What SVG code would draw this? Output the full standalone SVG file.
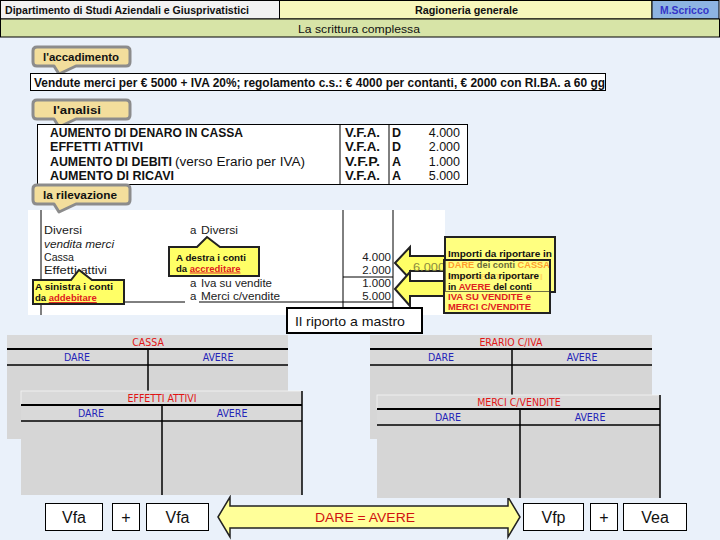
<svg xmlns="http://www.w3.org/2000/svg" width="720" height="540" viewBox="0 0 720 540">
<defs>
<style>
.hd{font-family:"Liberation Sans",Arial,sans-serif;font-weight:bold;font-size:10.5px;fill:#111}
.tan{fill:#F3DE9C;stroke:#8C8C8C;stroke-width:3;stroke-linejoin:round}
.tant{font-family:"Liberation Sans",Arial,sans-serif;font-weight:bold;font-size:11.5px;fill:#111}
.tb{font-family:"Liberation Sans",Arial,sans-serif;font-weight:bold;font-size:12.5px;fill:#111}
.tr{font-family:"Liberation Sans",Arial,sans-serif;font-size:12.5px;fill:#111}
.jr{font-family:"Liberation Sans",Arial,sans-serif;font-size:11.5px;fill:#1a1a1a}
.yel{fill:#FFFF66;stroke:#222;stroke-width:2;stroke-linejoin:miter}
.yt{font-family:"Liberation Sans",Arial,sans-serif;font-weight:bold;font-size:9.5px;fill:#111}
.red{fill:#E02020}
.org{fill:#FF6A00}
.lgh{fill:#D9D9D9}
.lgb{fill:#D6D6D6}
.ln{stroke:#000;stroke-width:2}
.ln1{stroke:#000;stroke-width:1.5}
.acc{font-family:"Liberation Sans Narrow","DejaVu Sans Condensed","Liberation Sans",sans-serif;font-size:10.5px;fill:#E01515;text-anchor:middle}
.da{font-family:"Liberation Sans Narrow","DejaVu Sans Condensed","Liberation Sans",sans-serif;font-size:10.5px;fill:#2424B8;text-anchor:middle}
.bx{fill:#fff;stroke:#000;stroke-width:1}
.bt{font-family:"Liberation Sans",Arial,sans-serif;font-size:16px;fill:#111;text-anchor:middle}
</style>
</defs>
<rect x="0" y="0" width="720" height="540" fill="#EAF1FA"/>

<g id="header">
<rect x="0.5" y="0.5" width="279" height="18.5" fill="#F2F2F2" stroke="#000"/>
<text class="hd" x="5" y="14" textLength="244" lengthAdjust="spacingAndGlyphs">Dipartimento di Studi Aziendali e Giusprivatistici</text>
<rect x="279.5" y="0.5" width="372.5" height="18.5" fill="#F7F7BC" stroke="#000"/>
<text class="hd" x="415" y="14" textLength="103" lengthAdjust="spacingAndGlyphs">Ragioneria generale</text>
<rect x="652" y="0.5" width="67" height="18.5" fill="#8DB4E2" stroke="#000"/>
<text class="hd" x="660" y="14" textLength="49" lengthAdjust="spacingAndGlyphs" style="fill:#3434C8">M.Scricco</text>
<rect x="0.5" y="19" width="719" height="18" fill="#D7E4A7" stroke="#000"/>
<text x="298" y="32.5" textLength="122" lengthAdjust="spacingAndGlyphs" style="font-family:'Liberation Sans',Arial,sans-serif;font-size:11.5px;fill:#111">La scrittura complessa</text>
</g>

<g id="accadimento">
<path class="tan" d="M37,47 H126 Q130,47 130,51 V62 Q130,66 126,66 H76 L59,74 L54,66 H37 Q33,66 33,62 V51 Q33,47 37,47 Z"/>
<text class="tant" x="43" y="61" textLength="76" lengthAdjust="spacingAndGlyphs">l'accadimento</text>
</g>

<g id="evento">
<rect x="30.5" y="73.5" width="575" height="17" fill="#fff" stroke="#000"/>
<text class="tb" x="34" y="86.5" textLength="571" lengthAdjust="spacingAndGlyphs">Vendute merci per € 5000 + IVA 20%; regolamento c.s.: € 4000 per contanti, € 2000 con RI.BA. a 60 gg</text>
</g>

<g id="analisi">
<path class="tan" d="M37,100 H126 Q130,100 130,104 V115 Q130,119 126,119 H76 L59,127 L54,119 H37 Q33,119 33,115 V104 Q33,100 37,100 Z"/>
<text class="tant" x="53" y="114" textLength="48" lengthAdjust="spacingAndGlyphs">l'analisi</text>
</g>

<g id="tabella-analisi">
<rect x="37.5" y="124.5" width="430" height="60" fill="#fff" stroke="#000"/>
<line x1="340" y1="124.5" x2="340" y2="184.5" stroke="#000"/>
<line x1="389" y1="124.5" x2="389" y2="184.5" stroke="#000"/>
<text class="tb" x="50" y="137" textLength="193" lengthAdjust="spacingAndGlyphs">AUMENTO DI DENARO IN CASSA</text>
<text class="tb" x="50" y="151" textLength="93" lengthAdjust="spacingAndGlyphs">EFFETTI ATTIVI</text>
<text class="tb" x="50" y="166" textLength="122" lengthAdjust="spacingAndGlyphs">AUMENTO DI DEBITI</text>
<text class="tr" x="175" y="166" textLength="130" lengthAdjust="spacingAndGlyphs">(verso Erario per IVA)</text>
<text class="tb" x="50" y="180" textLength="124" lengthAdjust="spacingAndGlyphs">AUMENTO DI RICAVI</text>
<text class="tb" x="345" y="137" textLength="35" lengthAdjust="spacingAndGlyphs">V.F.A.</text>
<text class="tb" x="345" y="151" textLength="35" lengthAdjust="spacingAndGlyphs">V.F.A.</text>
<text class="tb" x="345" y="166" textLength="35" lengthAdjust="spacingAndGlyphs">V.F.P.</text>
<text class="tb" x="345" y="180" textLength="35" lengthAdjust="spacingAndGlyphs">V.F.A.</text>
<text class="tb" x="392" y="137">D</text>
<text class="tb" x="392" y="151">D</text>
<text class="tb" x="392" y="166">A</text>
<text class="tb" x="392" y="180">A</text>
<g text-anchor="end">
<text class="tr" x="460" y="137">4.000</text>
<text class="tr" x="460" y="151">2.000</text>
<text class="tr" x="460" y="166">1.000</text>
<text class="tr" x="460" y="180">5.000</text>
</g>
</g>

<g id="giornale">
<rect x="28" y="210" width="417" height="105" fill="#fff"/>
<line x1="41" y1="210" x2="41" y2="315" stroke="#000"/>
<line x1="343" y1="210" x2="343" y2="315" stroke="#000"/>
<line x1="393" y1="210" x2="393" y2="315" stroke="#000"/>
<line x1="343" y1="277" x2="393" y2="277" stroke="#000"/>
<line x1="124" y1="302" x2="185" y2="302" stroke="#000"/>
<line x1="199" y1="302" x2="393" y2="302" stroke="#000"/>
<text class="jr" x="44" y="234" textLength="38" lengthAdjust="spacingAndGlyphs">Diversi</text>
<text class="jr" x="44" y="248" textLength="70" lengthAdjust="spacingAndGlyphs" font-style="italic">vendita merci</text>
<text class="jr" x="44" y="261" textLength="30" lengthAdjust="spacingAndGlyphs">Cassa</text>
<text class="jr" x="44" y="274" textLength="63" lengthAdjust="spacingAndGlyphs">Effetti attivi</text>
<text class="jr" x="190" y="234">a</text>
<text class="jr" x="201" y="234" textLength="37" lengthAdjust="spacingAndGlyphs">Diversi</text>
<text class="jr" x="190" y="287">a</text>
<text class="jr" x="201" y="287" textLength="71" lengthAdjust="spacingAndGlyphs">Iva su vendite</text>
<text class="jr" x="190" y="300">a</text>
<text class="jr" x="201" y="300" textLength="79" lengthAdjust="spacingAndGlyphs">Merci c/vendite</text>
<g text-anchor="end">
<text class="jr" x="391" y="261">4.000</text>
<text class="jr" x="391" y="274">2.000</text>
<text class="jr" x="391" y="287">1.000</text>
<text class="jr" x="391" y="300">5.000</text>
</g>
</g>

<g id="rilevazione">
<path class="tan" d="M37,185 H126 Q130,185 130,189 V200 Q130,204 126,204 H76 L59,212 L54,204 H37 Q33,204 33,200 V189 Q33,185 37,185 Z"/>
<text class="tant" x="43" y="199" textLength="74" lengthAdjust="spacingAndGlyphs">la rilevazione</text>
</g>

<g id="nota-destra">
<path class="yel" d="M169,247 H197 L207,237 L220,247 H259 V276 H169 Z"/>
<text class="yt" x="176" y="261" textLength="70" lengthAdjust="spacingAndGlyphs">A destra i conti</text>
<text class="yt" x="176" y="271.5">da <tspan class="red" text-decoration="underline">accreditare</tspan></text>
</g>

<g id="nota-sinistra">
<path class="yel" d="M33,280 H71 L79,270 L92,280 H124 V304 H33 Z"/>
<text class="yt" x="35" y="290" textLength="78" lengthAdjust="spacingAndGlyphs">A sinistra i conti</text>
<text class="yt" x="35" y="301">da <tspan class="red" text-decoration="underline">addebitare</tspan></text>
</g>

<g id="connectors">
<polygon class="yel" points="395,263 410,247 410,256 448,256 448,271 410,271 410,279"/>
<text x="413" y="271" textLength="32" lengthAdjust="spacingAndGlyphs" style="font-family:'Liberation Sans',Arial,sans-serif;font-size:11.5px;fill:#8A8A40">6.000</text>
<polygon class="yel" points="395,289 410,272 410,281 448,281 448,296 410,296 410,306"/>
<polygon points="218,517 230,497 230,506 508,506 508,497 520,517 508,537 508,528 230,528 230,537" fill="#FFFF99" stroke="#222" stroke-width="1.5"/>
</g>

<g id="importi-dare">
<rect x="445" y="237" width="110" height="55" fill="#FFFF80" stroke="#222" stroke-width="2"/>
<text class="yt" x="448" y="257" textLength="104" lengthAdjust="spacingAndGlyphs">Importi  da riportare in</text>
<text class="yt" x="448" y="268" textLength="102" lengthAdjust="spacingAndGlyphs"><tspan class="org">DARE</tspan> dei conti <tspan class="org">CASSA</tspan></text>
<text class="yt org" x="448" y="280" textLength="95" lengthAdjust="spacingAndGlyphs" opacity="0.35">E EFFETTI ATTIVI</text>
</g>

<g id="importi-avere">
<rect x="444" y="292" width="106" height="21" fill="#FFFF80"/>
<rect x="444" y="260" width="106" height="53" fill="#FFFF80" fill-opacity="0.35" stroke="#222" stroke-width="2"/>
<text class="yt" x="448" y="279" textLength="91" lengthAdjust="spacingAndGlyphs">Importi  da riportare</text>
<text class="yt" x="448" y="290" textLength="84" lengthAdjust="spacingAndGlyphs">in  <tspan class="red">AVERE</tspan> del conti</text>
<text class="yt red" x="448" y="300" textLength="83" lengthAdjust="spacingAndGlyphs">IVA SU VENDITE e</text>
<text class="yt red" x="448" y="310" textLength="83" lengthAdjust="spacingAndGlyphs">MERCI C/VENDITE</text>
</g>

<g id="riporto">
<rect x="287" y="308" width="135" height="25" fill="#fff" stroke="#000" stroke-width="2"/>
<text x="295" y="325.5" textLength="110" lengthAdjust="spacingAndGlyphs" style="font-family:'Liberation Sans',Arial,sans-serif;font-size:13.5px;fill:#111">Il riporto a mastro</text>
</g>

<g id="cassa">
<rect class="lgh" x="7" y="335" width="281" height="14"/>
<rect class="lgh" x="7" y="349" width="281" height="16"/>
<rect class="lgb" x="7" y="365" width="281" height="74"/>
<line class="ln" x1="7" y1="349" x2="288" y2="349"/>
<line class="ln1" x1="7" y1="365" x2="288" y2="365"/>
<line class="ln1" x1="148" y1="349" x2="148" y2="439"/>
<text class="acc" x="148" y="346">CASSA</text>
<text class="da" x="77" y="361">DARE</text>
<text class="da" x="218" y="361">AVERE</text>
</g>

<g id="erario">
<rect class="lgh" x="370" y="335" width="282" height="14"/>
<rect class="lgh" x="370" y="349" width="282" height="16"/>
<rect class="lgb" x="370" y="365" width="282" height="74"/>
<line class="ln" x1="370" y1="349" x2="652" y2="349"/>
<line class="ln1" x1="370" y1="365" x2="652" y2="365"/>
<line class="ln1" x1="512" y1="349" x2="512" y2="439"/>
<text class="acc" x="511" y="346">ERARIO C/IVA</text>
<text class="da" x="441" y="361">DARE</text>
<text class="da" x="582" y="361">AVERE</text>
</g>

<g id="effetti">
<rect class="lgh" x="21" y="391" width="281" height="14" stroke="#F4F4F4" stroke-width="0.8"/>
<rect class="lgh" x="21" y="405" width="281" height="16"/>
<rect class="lgb" x="21" y="421" width="281" height="74"/>
<line class="ln" x1="21" y1="405" x2="302" y2="405"/>
<line class="ln1" x1="21" y1="421" x2="302" y2="421"/>
<line class="ln1" x1="162" y1="405" x2="162" y2="495"/>
<line class="ln1" x1="302" y1="391" x2="302" y2="495"/>
<text class="acc" x="162" y="402">EFFETTI ATTIVI</text>
<text class="da" x="91" y="417">DARE</text>
<text class="da" x="232" y="417">AVERE</text>
</g>

<g id="merci">
<rect class="lgh" x="377" y="395" width="283" height="14" stroke="#F4F4F4" stroke-width="0.8"/>
<rect class="lgh" x="377" y="409" width="283" height="16"/>
<rect class="lgb" x="377" y="425" width="283" height="73"/>
<line class="ln" x1="377" y1="409" x2="660" y2="409"/>
<line class="ln1" x1="377" y1="425" x2="660" y2="425"/>
<line class="ln1" x1="520" y1="409" x2="520" y2="498"/>
<line class="ln1" x1="660" y1="395" x2="660" y2="498"/>
<text class="acc" x="519" y="406">MERCI C/VENDITE</text>
<text class="da" x="448" y="421">DARE</text>
<text class="da" x="590" y="421">AVERE</text>
</g>

<g id="equazione">
<rect class="bx" x="45.5" y="503.5" width="57" height="27"/>
<text class="bt" x="74" y="523">Vfa</text>
<rect class="bx" x="112.5" y="503.5" width="27" height="27"/>
<text class="bt" x="126" y="523">+</text>
<rect class="bx" x="146.5" y="503.5" width="62" height="27"/>
<text class="bt" x="177.5" y="523">Vfa</text>
<text x="365" y="522" text-anchor="middle" textLength="100" lengthAdjust="spacingAndGlyphs" style="font-family:'Liberation Sans Narrow','Liberation Sans',sans-serif;font-size:12.5px;fill:#D01010">DARE = AVERE</text>
<rect class="bx" x="523.5" y="503.5" width="60" height="27"/>
<text class="bt" x="553.5" y="523">Vfp</text>
<rect class="bx" x="590.5" y="503.5" width="27" height="27"/>
<text class="bt" x="604" y="523">+</text>
<rect class="bx" x="623.5" y="503.5" width="63" height="27"/>
<text class="bt" x="655" y="523">Vea</text>
</g>
</svg>
